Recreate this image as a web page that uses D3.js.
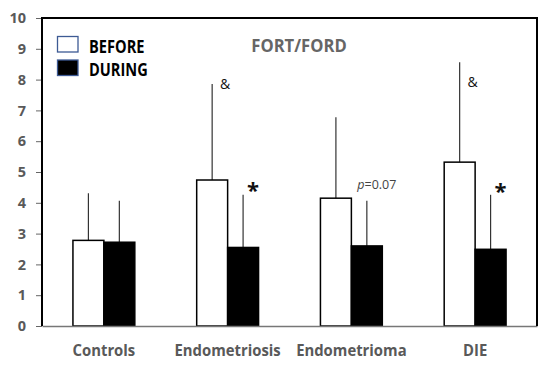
<!DOCTYPE html>
<html><head><meta charset="utf-8">
<script src="https://cdn.jsdelivr.net/npm/d3@7"></script>
<style>
html,body{margin:0;padding:0;background:#fff;}
svg{display:block;font-family:"Open Sans",sans-serif;}
</style></head>
<body><svg id="c" width="550" height="365"></svg>
<script>
const categories = ["Controls", "Endometriosis", "Endometrioma", "DIE"];
const seriesNames = ["BEFORE", "DURING"];
const beforeValues = [2.78, 4.74, 4.15, 5.32];
const beforeErrTop = [4.31, 7.86, 6.78, 8.56];
const duringValues = [2.72, 2.55, 2.6, 2.49];
const duringErrTop = [4.07, 4.26, 4.07, 4.26];
const yTicks = [0,1,2,3,4,5,6,7,8,9,10];
const title = "FORT/FORD";
const annotations = [
  {cat: "Endometriosis", series: "BEFORE", text: "&", at: 7.86},
  {cat: "Endometriosis", series: "DURING", text: "*", at: 4.5},
  {cat: "Endometrioma", series: "DURING", text: "p=0.07", at: 4.58},
  {cat: "DIE", series: "BEFORE", text: "&", at: 7.93},
  {cat: "DIE", series: "DURING", text: "*", at: 4.49}
];

const svg = d3.select("#c");
const L = 42, R = 537, T = 18, B = 326;
const x = d3.scaleBand().domain(categories).range([L, R]).paddingInner(0.5).paddingOuter(0.25);
const xs = d3.scaleBand().domain(seriesNames).range([0, x.bandwidth()]);
const y = d3.scaleLinear().domain([0, 10]).range([B, T]);

const rows = [];
categories.forEach((c, i) => {
  rows.push({cat: c, series: "BEFORE", v: beforeValues[i], e: beforeErrTop[i]});
  rows.push({cat: c, series: "DURING", v: duringValues[i], e: duringErrTop[i]});
});

// error bars (upward only)
svg.append("g").selectAll("line").data(rows).join("line")
  .attr("x1", d => x(d.cat) + xs(d.series) + xs.bandwidth()/2)
  .attr("x2", d => x(d.cat) + xs(d.series) + xs.bandwidth()/2)
  .attr("y1", d => y(d.v)).attr("y2", d => y(d.e))
  .attr("stroke", "#333").attr("stroke-width", 1.2);

// bars
svg.append("g").selectAll("rect").data(rows).join("rect")
  .attr("x", d => x(d.cat) + xs(d.series))
  .attr("width", xs.bandwidth())
  .attr("y", d => y(d.v))
  .attr("height", d => y(0) - y(d.v))
  .attr("fill", d => d.series === "BEFORE" ? "#fff" : "#000")
  .attr("stroke", "#000").attr("stroke-width", 1.5);

// y axis
const yAxis = d3.axisLeft(y).tickValues(yTicks).tickSize(6).tickPadding(10).tickFormat(d3.format("d"));
const gy = svg.append("g").attr("transform", `translate(${L},0)`).call(yAxis);
gy.select(".domain").remove();
gy.selectAll(".tick line").attr("stroke", "#666").attr("stroke-width", 1);
gy.selectAll(".tick text").attr("fill", "#595959").attr("font-size", 14.5).attr("font-weight", "bold")
  .attr("font-family", "'Open Sans',sans-serif");

// x axis
const xAxis = d3.axisBottom(x).tickSize(0).tickPadding(18);
const gx = svg.append("g").attr("transform", `translate(0,${B})`).call(xAxis);
gx.select(".domain").attr("stroke", "#777").attr("stroke-width", 1.5);
gx.selectAll(".tick text").attr("fill", "#595959").attr("font-size", 16.5).attr("font-weight", "bold")
  .attr("font-family", "'Open Sans',sans-serif").attr("transform", "scale(0.9,1)");

// frame: left, top, right
svg.append("path")
  .attr("d", `M${L},${B}V${T}H${R}V${B}`)
  .attr("fill", "none").attr("stroke", "#000").attr("stroke-width", 2);

// title
svg.append("text").attr("transform", "translate(299,51.5) scale(0.95,1)").attr("text-anchor", "middle")
  .attr("fill", "#666").attr("font-size", 17.5).attr("font-weight", "bold").text(title);

// legend
const leg = svg.append("g");
seriesNames.forEach((s, i) => {
  leg.append("rect").attr("x", 57.5).attr("y", 36.5 + i*23.5).attr("width", 20.5).attr("height", 15.5)
    .attr("fill", s === "BEFORE" ? "#fff" : "#000").attr("stroke", "#3d5a94").attr("stroke-width", 1.3);
  leg.append("text").attr("transform", `translate(89,${52.5 + i*23.5}) scale(0.86,1)`).attr("font-size", 17)
    .attr("font-weight", "bold").attr("fill", "#000").text(s);
});

// annotations
annotations.forEach(a => {
  const cx = x(a.cat) + xs(a.series) + xs.bandwidth()/2;
  const cy = y(a.at);
  if (a.text === "&") {
    svg.append("text").attr("x", cx + 13).attr("y", cy + 5).attr("text-anchor", "middle")
      .attr("font-size", 14).attr("fill", "#111").text(a.text);
  } else if (a.text === "*") {
    svg.append("text").attr("x", cx + 10).attr("y", cy + 11).attr("text-anchor", "middle")
      .attr("font-size", 22).attr("font-weight", "bold").attr("fill", "#111").text(a.text);
  } else {
    const t = svg.append("text").attr("x", cx + 10).attr("y", cy + 4.5).attr("text-anchor", "middle")
      .attr("font-size", 12.5).attr("fill", "#444");
    t.append("tspan").attr("font-style", "italic").text(a.text.slice(0, 1));
    t.append("tspan").text(a.text.slice(1));
  }
});
</script></body></html>
